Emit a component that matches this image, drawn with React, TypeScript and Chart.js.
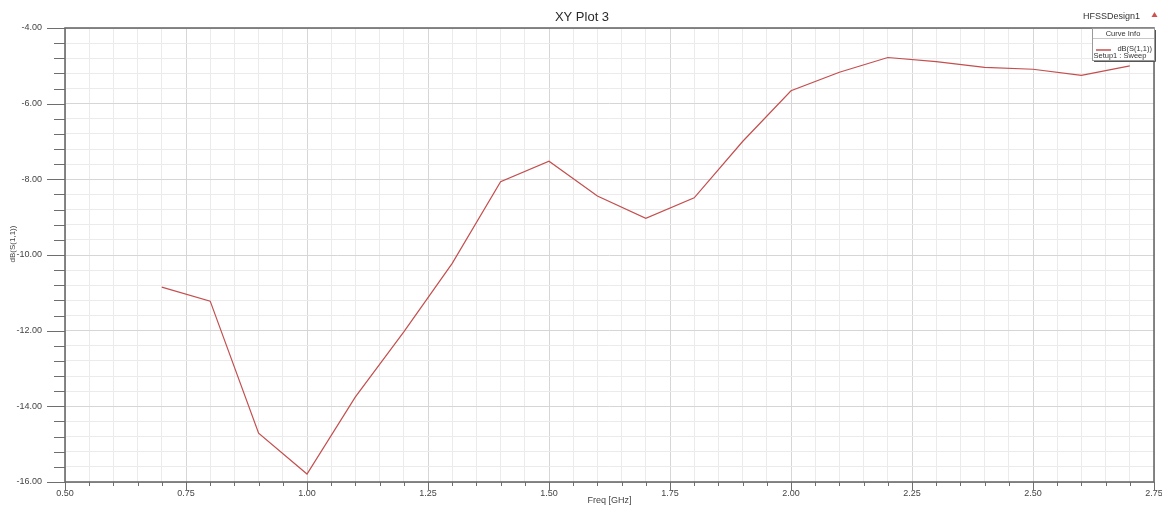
import React, { useEffect, useRef } from 'react';
import { Chart, registerables } from 'chart.js';

Chart.register(...registerables);

// ---- data ----
const freqGHz = [0.7, 0.8, 0.9, 1.0, 1.1, 1.2, 1.3, 1.4, 1.5, 1.6, 1.7, 1.8, 1.9, 2.0, 2.1, 2.2, 2.3, 2.4, 2.5, 2.6, 2.7];
const dbS11 = [-10.85, -11.22, -14.71, -15.79, -13.75, -12.03, -10.22, -8.06, -7.52, -8.44, -9.03, -8.49, -7.0, -5.66, -5.17, -4.78, -4.89, -5.04, -5.09, -5.25, -5.0];

const xMin = 0.5;
const xMax = 2.75;
const xMinorStep = 0.05;
const xMajorStep = 0.25;
const yMin = -16;
const yMax = -4;
const yMinorStep = 0.4;
const yMajorStep = 2;

const plotTitle = 'XY Plot 3';
const xAxisTitle = 'Freq [GHz]';
const yAxisTitle = 'dB(S(1,1))';
const designName = 'HFSSDesign1';
const legendHeader = 'Curve Info';
const seriesName = 'dB(S(1,1))';
const seriesSetup = 'Setup1 : Sweep';

const FONT = '"Liberation Sans", Arial, sans-serif';
const LINE_COLOR = 'rgb(196, 78, 78)';

const isMultiple = (v: number, step: number) => Math.abs(v / step - Math.round(v / step)) < 1e-6;

const hfssPlugin = {
  id: 'hfssDecor',
  afterDraw(chart: any) {
    const { ctx, chartArea: a, scales } = chart;
    const xs = scales.x;
    const ys = scales.y;
    ctx.save();

    // tick marks
    ctx.strokeStyle = '#6e6e6e';
    ctx.lineWidth = 1;
    ctx.beginPath();
    xs.ticks.forEach((t: any) => {
      const px = Math.round(xs.getPixelForValue(t.value)) + 0.5;
      const len = isMultiple(t.value, xMajorStep) ? 8 : 4;
      ctx.moveTo(px, a.bottom);
      ctx.lineTo(px, a.bottom + len);
    });
    ys.ticks.forEach((t: any) => {
      const py = Math.round(ys.getPixelForValue(t.value)) + 0.5;
      const len = isMultiple(t.value, yMajorStep) ? 18 : 11;
      ctx.moveTo(a.left - len, py);
      ctx.lineTo(a.left, py);
    });
    ctx.stroke();

    // frame
    ctx.strokeStyle = '#6a6a6a';
    ctx.lineWidth = 1.6;
    ctx.strokeRect(a.left, a.top, a.right - a.left, a.bottom - a.top);

    // title
    ctx.fillStyle = '#2a2a2a';
    ctx.font = `13px ${FONT}`;
    ctx.textAlign = 'center';
    ctx.textBaseline = 'middle';
    ctx.fillText(plotTitle, 582, 17);

    // axis titles
    ctx.fillStyle = '#444';
    ctx.font = `9px ${FONT}`;
    ctx.fillText(xAxisTitle, (a.left + a.right) / 2, 501);
    ctx.save();
    ctx.translate(13, 244);
    ctx.rotate(-Math.PI / 2);
    ctx.font = `8px ${FONT}`;
    ctx.fillText(yAxisTitle, 0, 0);
    ctx.restore();

    // design name + marker
    ctx.fillStyle = '#333';
    ctx.font = `9px ${FONT}`;
    ctx.textAlign = 'right';
    ctx.fillText(designName, 1140, 17);
    ctx.fillStyle = '#d05050';
    ctx.beginPath();
    ctx.moveTo(1154.5, 12);
    ctx.lineTo(1157.5, 17);
    ctx.lineTo(1151.5, 17);
    ctx.closePath();
    ctx.fill();

    // legend box
    const bx = 1092, by = 28, bw = 62, bh = 32;
    ctx.fillStyle = '#ffffff';
    ctx.fillRect(bx, by, bw, bh);
    ctx.strokeStyle = '#9a9a9a';
    ctx.lineWidth = 1;
    ctx.strokeRect(bx + 0.5, by + 0.5, bw, bh);
    ctx.strokeStyle = '#555';
    ctx.beginPath();
    ctx.moveTo(bx + bw + 1.5, by + 2);
    ctx.lineTo(bx + bw + 1.5, by + bh + 1.5);
    ctx.lineTo(bx + 2, by + bh + 1.5);
    ctx.stroke();
    ctx.strokeStyle = '#c8c8c8';
    ctx.beginPath();
    ctx.moveTo(bx + 1, by + 10.5);
    ctx.lineTo(bx + bw, by + 10.5);
    ctx.stroke();

    ctx.fillStyle = '#333';
    ctx.font = `7.5px ${FONT}`;
    ctx.textAlign = 'center';
    ctx.fillText(legendHeader, bx + bw / 2, by + 6);
    ctx.strokeStyle = LINE_COLOR;
    ctx.lineWidth = 1.5;
    ctx.beginPath();
    ctx.moveTo(bx + 4, by + 22);
    ctx.lineTo(bx + 19, by + 22);
    ctx.stroke();
    ctx.textAlign = 'right';
    ctx.fillText(seriesName, bx + bw - 2, by + 21);
    ctx.textAlign = 'left';
    ctx.fillText(seriesSetup, bx + 1.5, by + 28);

    ctx.restore();
  },
};

export default function App() {
  const canvasRef = useRef<HTMLCanvasElement | null>(null);

  useEffect(() => {
    if (!canvasRef.current) return;
    const points = freqGHz.map((f, i) => ({ x: f, y: dbS11[i] }));
    const chart = new Chart(canvasRef.current, {
      type: 'line',
      data: {
        datasets: [
          {
            label: seriesName,
            data: points,
            borderColor: LINE_COLOR,
            backgroundColor: LINE_COLOR,
            borderWidth: 1.2,
            pointRadius: 0,
            tension: 0,
            fill: false,
          },
        ],
      },
      options: {
        responsive: false,
        animation: false,
        devicePixelRatio: 1,
        layout: { padding: { top: 28, right: 8, left: 0, bottom: 0 } },
        plugins: {
          legend: { display: false },
          title: { display: false },
          tooltip: { enabled: false },
        },
        scales: {
          x: {
            type: 'linear',
            min: xMin,
            max: xMax,
            afterFit: (s: any) => {
              s.height = 24;
              s.paddingLeft = 0;
              s.paddingRight = 0;
            },
            border: { display: false },
            grid: {
              drawTicks: false,
              lineWidth: 1,
              color: (c: any) => (isMultiple(c.tick.value, xMajorStep) ? '#d6d6d6' : '#ebebeb'),
            },
            ticks: {
              stepSize: xMinorStep,
              maxTicksLimit: 1000,
              autoSkip: false,
              maxRotation: 0,
              minRotation: 0,
              padding: 6,
              color: '#444',
              font: { family: FONT, size: 9 },
              callback: (v: any) => (isMultiple(Number(v), xMajorStep) ? Number(v).toFixed(2) : ''),
            },
          },
          y: {
            type: 'linear',
            min: yMin,
            max: yMax,
            afterFit: (s: any) => {
              s.width = 65;
              s.paddingTop = 0;
              s.paddingBottom = 0;
            },
            border: { display: false },
            grid: {
              drawTicks: false,
              lineWidth: 1,
              color: (c: any) => (isMultiple(c.tick.value, yMajorStep) ? '#d6d6d6' : '#ebebeb'),
            },
            ticks: {
              stepSize: yMinorStep,
              maxTicksLimit: 1000,
              autoSkip: false,
              padding: 23,
              color: '#444',
              font: { family: FONT, size: 9 },
              callback: (v: any) => (isMultiple(Number(v), yMajorStep) ? Number(v).toFixed(2) : ''),
            },
          },
        },
      },
      plugins: [hfssPlugin],
    });
    return () => chart.destroy();
  }, []);

  return (
    <div style={{ position: 'absolute', left: 0, top: 0, width: 1162, height: 506, background: '#fff' }}>
      <canvas ref={canvasRef} width={1162} height={506} style={{ display: 'block' }} />
    </div>
  );
}
